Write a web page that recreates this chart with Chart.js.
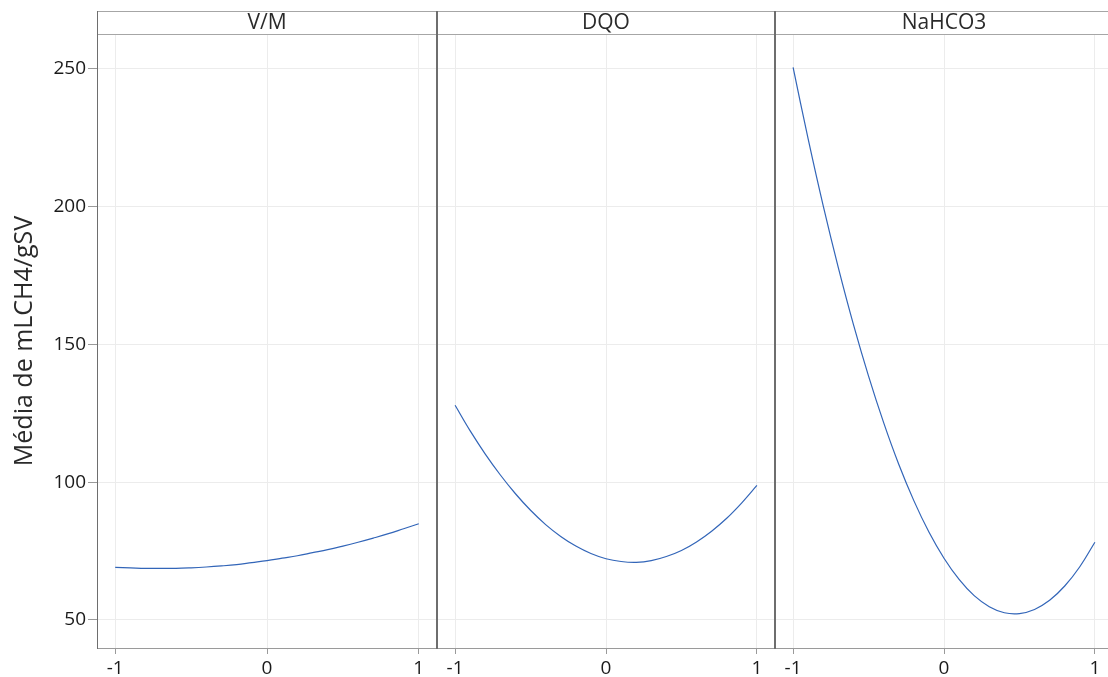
<!DOCTYPE html>
<html>
<head>
<meta charset="utf-8">
<script src="https://cdn.jsdelivr.net/npm/chart.js@4"></script>
<style>
  html, body { margin: 0; padding: 0; background: #fff; overflow: hidden; }
  #wrap { position: relative; width: 1108px; height: 677px; overflow: hidden; }
  .panel { position: absolute; top: 0; height: 677px; }
</style>
</head>
<body>
<div id="wrap">
  <div class="panel" style="left:0;width:437px"><canvas id="c0"></canvas></div>
  <div class="panel" style="left:437px;width:338px"><canvas id="c1"></canvas></div>
  <div class="panel" style="left:775px;width:338px"><canvas id="c2"></canvas></div>
</div>
<script>
// factor levels (coded) and fitted means
const levels = [-1, -0.9, -0.8, -0.7, -0.6, -0.5, -0.4, -0.3, -0.2, -0.1, 0,
                0.1, 0.2, 0.3, 0.4, 0.5, 0.6, 0.7, 0.8, 0.9, 1];
const panels = ['V/M', 'DQO', 'NaHCO3'];
const vmMeans = [69.1, 68.9, 68.7, 68.7, 68.7, 68.9, 69.2, 69.6, 70.1, 70.8, 71.5,
                 72.4, 73.3, 74.4, 75.5, 76.8, 78.2, 79.7, 81.3, 83.1, 84.9];
const dqoMeans = [127.9, 118.6, 110.2, 102.6, 95.8, 89.8, 84.6, 80.3, 76.8, 74.1, 72.2,
                  71.2, 70.9, 71.5, 73.0, 75.2, 78.3, 82.2, 86.9, 92.5, 98.8];
const nahco3Means = [250.6, 224.5, 200.2, 177.8, 157.2, 138.5, 121.6, 106.5, 93.3, 81.9, 72.4,
                     64.7, 58.8, 54.8, 52.6, 52.3, 53.8, 57.1, 62.3, 69.3, 78.2];
const yTicks = [50, 100, 150, 200, 250];
const xTicks = [-1, 0, 1];
const yLabel = 'Média de mLCH4/gSV';

const allMeans = [vmMeans, dqoMeans, nahco3Means];
const FONT = "'Open Sans', 'Noto Sans', sans-serif";

// header strip + panel frame
const framePlugin = {
  id: 'frame',
  afterDraw(chart, args, opts) {
    const { ctx, chartArea: a } = chart;
    ctx.save();
    // header box
    ctx.strokeStyle = '#a6a6a6';
    ctx.lineWidth = 1;
    ctx.strokeRect(a.left + 0.5, 11.5, a.right - a.left, 23);
    ctx.fillStyle = '#2a2a2a';
    ctx.font = '500 21px ' + FONT;
    ctx.textAlign = 'center';
    ctx.textBaseline = 'middle';
    ctx.fillText(opts.label, (a.left + a.right) / 2, 23);
    // bottom axis line
    ctx.strokeStyle = '#9a9a9a';
    ctx.beginPath();
    ctx.moveTo(a.left, a.bottom + 0.5);
    ctx.lineTo(a.right, a.bottom + 0.5);
    ctx.stroke();
    // side borders
    ctx.strokeStyle = '#6e6e6e';
    ctx.beginPath();
    ctx.moveTo(a.left + 0.5, 11);
    ctx.lineTo(a.left + 0.5, a.bottom + 1);
    ctx.moveTo(a.right - 0.5, 11);
    ctx.lineTo(a.right - 0.5, a.bottom + 1);
    ctx.stroke();
    ctx.restore();
  }
};

allMeans.forEach((means, i) => {
  const first = i === 0;
  new Chart(document.getElementById('c' + i), {
    type: 'line',
    data: {
      datasets: [{
        data: levels.map((x, k) => ({ x: x, y: means[k] })),
        borderColor: '#3265b8',
        borderWidth: 1.2,
        pointRadius: 0,
        tension: 0.4,
        fill: false
      }]
    },
    options: {
      responsive: true,
      maintainAspectRatio: false,
      animation: false,
      layout: { padding: { top: 34, left: 0, right: 0, bottom: 0 } },
      scales: {
        x: {
          type: 'linear',
          min: -1.12,
          max: 1.12,
          afterBuildTicks: s => { s.ticks = xTicks.map(v => ({ value: v })); },
          afterFit: s => { s.height = 29; },
          border: { display: false },
          grid: { color: '#ececec', tickColor: '#9a9a9a', tickLength: 6 },
          ticks: {
            color: '#1a1a1a',
            font: { family: FONT, size: 19, weight: '500' },
            padding: 3,
            maxRotation: 0,
            callback: v => String(v)
          }
        },
        y: {
          min: 39.8,
          max: 262.7,
          afterBuildTicks: s => { s.ticks = yTicks.map(v => ({ value: v })); },
          afterFit: s => { s.width = first ? 97 : 0; },
          border: { display: false },
          grid: { color: '#ececec', tickColor: '#9a9a9a', tickLength: 9, drawTicks: first },
          ticks: {
            display: first,
            color: '#1a1a1a',
            font: { family: FONT, size: 19, weight: '500' },
            padding: 2
          },
          title: {
            display: first,
            text: yLabel,
            color: '#2a2a2a',
            font: { family: FONT, size: 25, weight: '500' },
            padding: { top: 10, bottom: 0 }
          }
        }
      },
      plugins: {
        legend: { display: false },
        tooltip: { enabled: false },
        frame: { label: panels[i] }
      }
    },
    plugins: [framePlugin]
  });
});
</script>
</body>
</html>
